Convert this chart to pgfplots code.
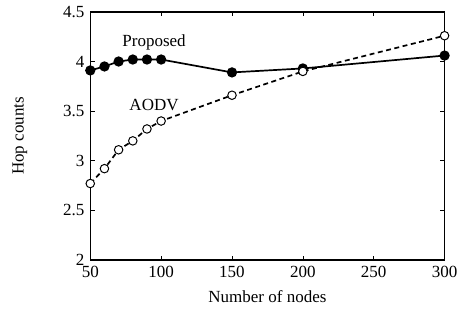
\documentclass[border=0pt]{standalone}
\usepackage{pgfplots}
\pgfplotsset{compat=1.18}
\usepackage{fontspec}
\setmainfont{Liberation Serif}
\begin{document}
\fontsize{12}{14}\selectfont
\begin{tikzpicture}
\begin{axis}[
  scale only axis,
  width=250pt, height=175pt,
  xmin=50, xmax=300, ymin=2, ymax=4.5,
  xtick={50,100,150,200,250,300},
  ytick={2,2.5,3,3.5,4,4.5},
  tick align=inside,
  tick pos=both,
  tick style={black, thin},
  major tick length=3pt,
  /pgf/number format/assume math mode=true,
  yticklabel style={/pgf/number format/fixed},
  tick label style={font=\fontsize{12}{14}\selectfont},
  label style={font=\fontsize{12}{14}\selectfont},
  xlabel={Number of nodes},
  ylabel={Hop counts},
  ylabel style={yshift=17pt},
  xlabel style={yshift=-1pt},
  axis line style={black, line width=0.9pt},
  clip=false,
]
\addplot[black, line width=1.2pt, mark=*, mark size=3pt, mark options={solid, fill=black}] coordinates {
(50,3.91) (60,3.95) (70,4.00) (80,4.02) (90,4.02) (100,4.02) (150,3.89) (200,3.93) (300,4.06)};
\addplot[black, line width=1.2pt, dash pattern=on 3.5pt off 2.5pt, mark=*, mark size=3pt, mark options={solid, fill=white, line width=0.7pt}] coordinates {
(50,2.77) (60,2.92) (70,3.11) (80,3.20) (90,3.32) (100,3.40) (150,3.66) (200,3.90) (300,4.26)};
\node at (axis cs:95,4.19) {Proposed};
\node at (axis cs:95,3.56) {AODV};
\end{axis}
\path (current axis.south west) ++(-63.7pt,-38pt);
\path (current axis.north east) ++(10.5pt,8.4pt);
\end{tikzpicture}
\end{document}
